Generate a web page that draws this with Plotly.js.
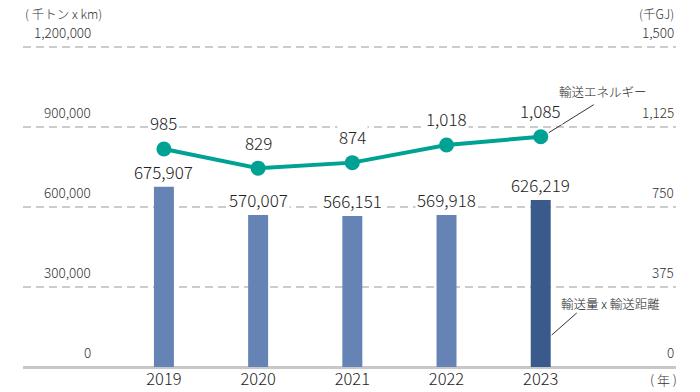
<!DOCTYPE html>
<html><head><meta charset="utf-8">
<script src="https://cdn.plot.ly/plotly-3.0.1.min.js"></script>
<style>html,body{margin:0;padding:0;background:#fff}</style>
</head><body><div id="chart" style="width:700px;height:392px"></div>
<script>
// ---- data ----
const years = ["2019", "2020", "2021", "2022", "2023"];
const transportVolume = [675907, 570007, 566151, 569918, 626219];   // 千トン x km
const transportEnergy = [985, 829, 874, 1018, 1085];                 // 千GJ
const leftTicks = [0, 300000, 600000, 900000, 1200000];
const rightTicks = [0, 375, 750, 1125, 1500];
const volumeName = "輸送量 x 輸送距離";
const energyName = "輸送エネルギー";
const leftUnit = "( 千トン x km)";
const rightUnit = "(千GJ)";
const xUnit = "( 年 )";

// ---- style ----
const FONT = "Noto Sans CJK JP, Noto Sans, sans-serif";
const TXT = "#222";
const BAR = "#6583b5", BAR_HI = "#3a5a8b", TEAL = "#00a293", GRID = "#cccccc";
const BW = 0.212;
const fmt = v => v.toLocaleString("en-US");
const last = years.length - 1;

const traces = [
  {
    type: "bar", x: years, y: transportVolume, width: BW,
    marker: {color: years.map((_, i) => i === last ? BAR_HI : BAR)},
    hoverinfo: "skip", cliponaxis: false
  },
  {
    type: "scatter", mode: "lines+markers", x: years, y: transportEnergy, yaxis: "y2",
    line: {color: TEAL, width: 4}, marker: {color: TEAL, size: 15},
    hoverinfo: "skip", cliponaxis: false
  }
];

const ann = [];
// bar value labels
years.forEach((yr, i) => ann.push({
  x: i, y: transportVolume[i], xref: "x", yref: "y", text: fmt(transportVolume[i]),
  showarrow: false, yanchor: "bottom", yshift: 1, bgcolor: "#fff", borderpad: 1,
  font: {family: FONT, size: 17, color: TXT, weight: 300}
}));
// line value labels
years.forEach((yr, i) => ann.push({
  x: i, y: transportEnergy[i], xref: "x", yref: "y2", text: fmt(transportEnergy[i]),
  showarrow: false, yanchor: "middle", yshift: 26, bgcolor: "#fff", borderpad: 1,
  font: {family: FONT, size: 17, color: TXT, weight: 300}
}));
// axis tick labels (placed above the gridlines)
leftTicks.forEach((t, i) => {
  ann.push({
    x: 0.1072, xref: "paper", xanchor: "right", y: t, yref: "y", yanchor: "middle", yshift: 15.5,
    text: fmt(t), showarrow: false, font: {family: FONT, size: 13.5, color: "#333", weight: 300}
  });
  ann.push({
    x: 1, xref: "paper", xanchor: "right", y: t, yref: "y", yanchor: "middle", yshift: 15.5,
    text: fmt(rightTicks[i]), showarrow: false, font: {family: FONT, size: 13.5, color: "#333", weight: 300}
  });
});
// unit labels
ann.push({x: 0, xref: "paper", xanchor: "left", y: 1, yref: "paper", yanchor: "middle", yshift: 26,
  text: leftUnit, showarrow: false, font: {family: FONT, size: 12.5, color: "#333", weight: 300}});
ann.push({x: 1, xref: "paper", xanchor: "right", y: 1, yref: "paper", yanchor: "middle", yshift: 26,
  text: rightUnit, showarrow: false, font: {family: FONT, size: 12.5, color: "#333", weight: 300}});
ann.push({x: 1, xref: "paper", xanchor: "right", xshift: 3, y: 0, yref: "paper", yanchor: "middle", yshift: -12,
  text: xUnit, showarrow: false, font: {family: FONT, size: 13, color: "#333", weight: 300}});
// series callouts (text)
ann.push({x: last, y: transportEnergy[last], xref: "x", yref: "y2", xshift: 62, yshift: 45,
  text: energyName, showarrow: false, font: {family: FONT, size: 12.5, color: TXT, weight: 300}});
ann.push({x: last, y: 0, xref: "x", yref: "y", xshift: 70, yshift: 64,
  text: volumeName, showarrow: false, font: {family: FONT, size: 12.5, color: TXT, weight: 300}});

// leader lines, anchored to the data point / bar, offsets in pixels
const shapes = [
  {type: "line", xref: "x", yref: "y2", xsizemode: "pixel", ysizemode: "pixel",
   xanchor: last, yanchor: transportEnergy[last], x0: 8, y0: 4, x1: 53, y1: 32,
   line: {color: "#333", width: 1}},
  {type: "line", xref: "x", yref: "y", xsizemode: "pixel", ysizemode: "pixel",
   xanchor: last, yanchor: 0, x0: 11, y0: 32, x1: 36, y1: 54,
   line: {color: "#333", width: 1}}
];

const layout = {
  width: 700, height: 392,
  margin: {l: 23, r: 24, t: 39, b: 25, pad: 0},
  paper_bgcolor: "#fff", plot_bgcolor: "#fff",
  showlegend: false,
  font: {family: FONT, color: TXT},
  xaxis: {
    type: "category", range: [-1.496, 5.436], showgrid: false, zeroline: false,
    showline: false, ticks: "", tickfont: {family: FONT, size: 16.5, color: TXT, weight: 300}, fixedrange: true
  },
  yaxis: {
    range: [0, 1230000], tickvals: leftTicks, showticklabels: false,
    showgrid: true, gridcolor: GRID, gridwidth: 2.5, griddash: "8px,5px",
    zeroline: true, zerolinecolor: "#c8c8c8", zerolinewidth: 3, fixedrange: true
  },
  yaxis2: {
    overlaying: "y", side: "right", range: [-789, 1880],
    showgrid: false, zeroline: false, showticklabels: false, fixedrange: true
  },
  annotations: ann,
  shapes: shapes
};

try {
  Plotly.newPlot("chart", traces, layout, {staticPlot: true, displayModeBar: false});
} catch (e) { console.error(e); }
</script></body></html>
